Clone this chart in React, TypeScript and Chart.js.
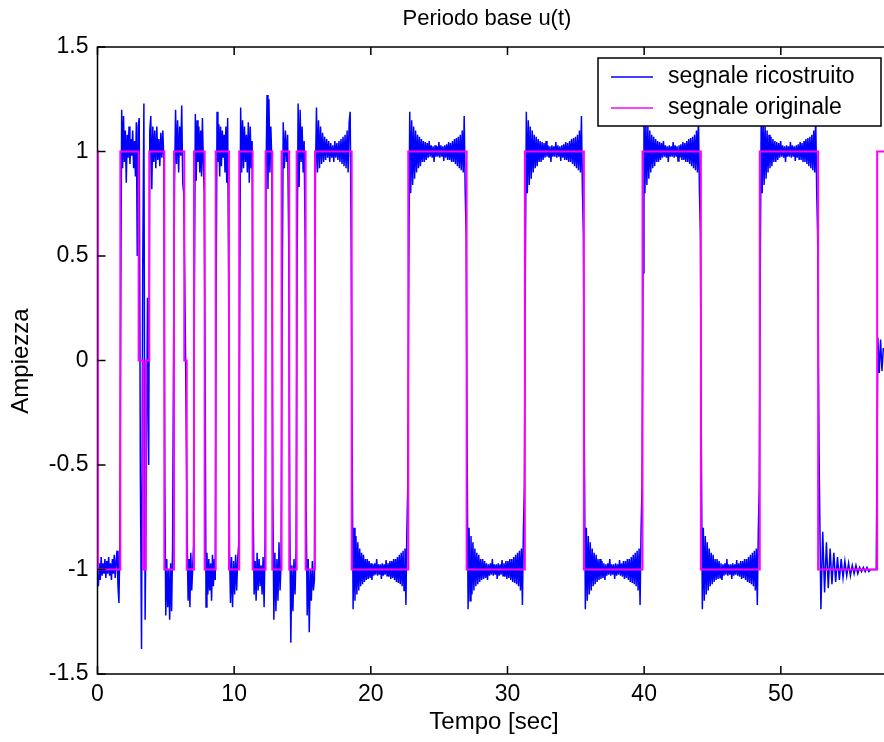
import React, { useEffect, useRef } from 'react';
import { Chart, registerables } from 'chart.js';

Chart.register(...registerables);

// ---------- text ----------
const chartTitle = 'Periodo base u(t)';
const xAxisLabel = 'Tempo [sec]';
const yAxisLabel = 'Ampiezza';
const seriesLabels = ['segnale ricostruito', 'segnale originale'];
const seriesColors = ['#0000FF', '#FF00FF'];

// ---------- axes ----------
const xTicks = [0, 10, 20, 30, 40, 50];
const xTickLabels = ['0', '10', '20', '30', '40', '50'];
const yTicks = [-1.5, -1, -0.5, 0, 0.5, 1, 1.5];
const yTickLabels = ['-1.5', '-1', '-0.5', '0', '0.5', '1', '1.5'];
const xMin = 0;
const xMax = 57.55;
const yMin = -1.5;
const yMax = 1.5;

// ---------- original signal (magenta): switch times and level held after each ----------
const switchTimes = [
  0, 0.03, 1.67, 3.01, 3.35, 3.53, 3.79, 4.89, 5.6, 6.35, 6.53, 7.06, 7.84, 8.65,
  9.62, 10.37, 11.35, 12.3, 12.79, 13.47, 14.03, 14.57, 15.23, 15.91, 18.6, 22.74,
  27.01, 31.27, 35.59, 39.88, 44.15, 48.46, 52.73, 57.05,
];
const switchLevels = [
  1, -1, 1, 0, -1, 0, 1, -1, 1, 0, -1, 1, -1, 1, -1, 1, -1, 1, -1, 1, -1, 1, -1, 1,
  -1, 1, -1, 1, -1, 1, -1, 1, -1, 1,
];

// ---------- reconstructed signal (blue): samples read inside each segment ----------
const blueShortSegments: number[][] = [
  [],
  [-1.08, -0.97, -1.05, -0.94, -1.03, -0.97, -1.02, -0.95, -1.04, -0.96, -1.02, -0.94, -1.03, -0.97, -1.05, -0.95, -1.02, -0.93, -1.04, -0.96, -0.91, -1.08, -1.16, -0.88],
  [0.33, 1.2, 0.92, 1.17, 0.95, 1.1, 0.85, 1.08, 0.97, 1.12, 0.94, 1.06, 0.98, 1.1, 0.92, 1.05, 0.88, 1.14, 0.5, 1.12],
  [1.16, -0.55, -1.38, 0.43],
  [1.23, -1.24],
  [-0.55, 0.3, -0.5],
  [1.1, 1.17, 0.82, 1.12, 0.95, 1.1, 0.92, 1.12, 0.96, 1.06, 0.93, 1.09, 0.97, 1.1, 0.96],
  [-0.6, -1.22, -0.95, -1.18, -1.0, -1.24, -0.97, -1.2, -0.9, 0.03],
  [0.85, 1.2, 0.94, 1.15, 0.9, 1.12, 0.98, 1.22, 0.85, 0.8],
  [0.05],
  [-0.85, -1.15, -0.95, -1.18, -0.92, -1.1, -1.0, -0.88],
  [0.33, 1.18, 0.86, 1.15, 0.95, 1.12, 0.9, 1.1, 0.88, 1.16, 0.95, 0.8],
  [-0.04, -1.18, -0.92, -1.12, -0.95, -1.1, -0.97, -1.15, -0.93, -1.08, -0.95, -1.05],
  [0.32, 1.19, 0.95, 1.13, 0.88, 1.12, 0.93, 1.1, 0.97, 1.08, 0.9, 1.12, 0.85, 1.16, 0.45],
  [-0.9, -1.16, -0.94, -1.18, -0.96, -1.12, -0.93, -1.1, -0.95, -0.88],
  [0.3, 1.21, 0.9, 1.15, 0.92, 1.12, 0.95, 1.08, 0.9, 1.14, 0.85, 1.12, 0.92, 1.05],
  [-0.68, -1.12, -0.96, -1.15, -0.92, -1.1, -0.95, -1.08, -0.98, -1.12, -0.94, -1.18, -0.86],
  [0.9, 1.27, 0.82, 1.25, 0.9, 1.12, 0.95],
  [-0.64, -1.24, -0.92, -1.2, -0.95, -1.15, -0.87, -1.1, -0.97],
  [0.23, 1.14, 0.92, 1.1, 0.95, 1.08, 0.57],
  [-0.76, -1.35, -0.98, -1.2, -0.95, -1.12, -0.9],
  [0.45, 1.23, 0.83, 1.2, 0.95, 1.12, 0.9, 1.05, 0.57],
  [-0.7, -1.22, -0.95, -1.3, -1.0, -1.15, -0.96, -1.1, -1.05],
  [0.88, 1.21, 0.9, 1.15, 0.92, 1.12, 0.94, 1.09, 0.95, 1.07, 0.96, 1.06, 0.97, 1.05, 0.95, 1.04, 0.97, 1.03, 0.95, 1.05, 0.97, 1.04, 0.96, 1.05, 0.95, 1.06, 0.94, 1.07, 0.93, 1.08, 0.92, 1.1, 0.9, 1.14, 1.19, 0.56],
];
// ripple read on the long +1 plateau (22.7 s - 27.0 s); -1 plateaus are its mirror
const longPlateauRipple = [
  0.42, 1.19, 0.8, 1.15, 0.84, 1.12, 0.87, 1.1, 0.9, 1.08,
  0.92, 1.07, 0.93, 1.06, 0.95, 1.05, 0.95, 1.045, 0.96, 1.04,
  0.97, 1.05, 0.975, 1.03, 0.97, 1.025, 0.95, 1.03, 0.975, 1.025,
  0.975, 1.045, 0.97, 1.03, 0.975, 1.025, 0.955, 1.03, 0.97, 1.035,
  0.96, 1.045, 0.96, 1.04, 0.95, 1.05, 0.95, 1.06, 0.94, 1.065,
  0.93, 1.07, 0.92, 1.08, 0.91, 1.1, 0.9, 1.17, 0.82, 0.6,
];
const lastPlateauValues = [
  -0.45, -1.19, -0.82, -1.11, -0.87, -1.09, -0.9, -1.07, -0.92, -1.06, -0.94, -1.05,
  -0.95, -1.04, -0.96, -1.03, -0.97, -1.03, -0.98, -1.02, -0.98, -1.02, -0.99, -1.01,
  -0.99, -1.01, -0.99, -1.01, -1.0, -1.0, -1.0, -1.0,
];
const endValues = [0.11, -0.06, 0.1, -0.05, 0.06];

const FONT = '"Liberation Sans", Arial, Helvetica, sans-serif';

function buildOriginal() {
  const pts = switchTimes.map((t, i) => ({ x: t, y: switchLevels[i] }));
  pts.push({ x: xMax, y: switchLevels[switchLevels.length - 1] });
  return pts;
}

function buildReconstructed() {
  const pts: { x: number; y: number }[] = [];
  for (let i = 0; i < switchTimes.length; i++) {
    const start = switchTimes[i];
    const end = i + 1 < switchTimes.length ? switchTimes[i + 1] : xMax;
    let vals: number[];
    if (i < blueShortSegments.length) vals = blueShortSegments[i];
    else if (i === switchTimes.length - 1) vals = endValues;
    else if (i === switchTimes.length - 2) vals = lastPlateauValues;
    else vals = longPlateauRipple.map((v) => v * switchLevels[i]);
    const n = vals.length;
    vals.forEach((v, k) => pts.push({ x: start + ((k + 0.5) * (end - start)) / n, y: v }));
  }
  return pts;
}

const frameAndText = {
  id: 'frameAndText',
  beforeDatasetsDraw(chart: any) {
    const { ctx, chartArea: a } = chart;
    ctx.save();
    ctx.strokeStyle = '#000';
    ctx.lineWidth = 1.5;
    ctx.beginPath();
    ctx.moveTo(chart.width, a.top);
    ctx.lineTo(a.left, a.top);
    ctx.lineTo(a.left, a.bottom);
    ctx.lineTo(chart.width, a.bottom);
    ctx.stroke();
    ctx.restore();
  },
  afterDatasetsDraw(chart: any) {
    const { ctx, chartArea: a, scales } = chart;
    const xs = scales.x;
    const ys = scales.y;
    const tl = 8;
    ctx.save();
    ctx.strokeStyle = '#000';
    ctx.lineWidth = 1.5;
    ctx.beginPath();
    xTicks.forEach((v) => {
      const px = xs.getPixelForValue(v);
      ctx.moveTo(px, a.bottom);
      ctx.lineTo(px, a.bottom - tl);
      ctx.moveTo(px, a.top);
      ctx.lineTo(px, a.top + tl);
    });
    yTicks.forEach((v) => {
      const py = ys.getPixelForValue(v);
      ctx.moveTo(a.left, py);
      ctx.lineTo(a.left + tl, py);
    });
    ctx.stroke();

    ctx.fillStyle = '#000';
    ctx.font = `23px ${FONT}`;
    ctx.textAlign = 'center';
    ctx.textBaseline = 'middle';
    xTicks.forEach((v, i) => ctx.fillText(xTickLabels[i], xs.getPixelForValue(v), a.bottom + 21));
    ctx.textAlign = 'right';
    yTicks.forEach((v, i) => ctx.fillText(yTickLabels[i], a.left - 9, ys.getPixelForValue(v)));

    // title and axis labels
    ctx.textAlign = 'center';
    ctx.font = `22px ${FONT}`;
    ctx.fillText(chartTitle, 487, 19);
    ctx.font = `24px ${FONT}`;
    ctx.fillText(xAxisLabel, 494, 722);
    ctx.save();
    ctx.translate(21, 361);
    ctx.rotate(-Math.PI / 2);
    ctx.fillText(yAxisLabel, 0, 0);
    ctx.restore();

    // legend box
    const bx = 598, by = 58, bw = 283, bh = 68;
    ctx.fillStyle = '#fff';
    ctx.fillRect(bx, by, bw, bh);
    ctx.strokeStyle = '#000';
    ctx.lineWidth = 1.5;
    ctx.strokeRect(bx, by, bw, bh);
    const rows = [77, 108];
    chart.data.datasets.forEach((ds: any, i: number) => {
      ctx.strokeStyle = ds.borderColor;
      ctx.lineWidth = 1.5;
      ctx.beginPath();
      ctx.moveTo(611, rows[i]);
      ctx.lineTo(653, rows[i]);
      ctx.stroke();
      ctx.fillStyle = '#000';
      ctx.textAlign = 'left';
      ctx.font = `23px ${FONT}`;
      ctx.fillText(ds.label, 668, rows[i]);
    });
    ctx.restore();
  },
};

export default function App() {
  const canvasRef = useRef<HTMLCanvasElement | null>(null);

  useEffect(() => {
    const canvas = canvasRef.current;
    if (!canvas) return;
    const chart = new Chart(canvas, {
      type: 'line',
      data: {
        datasets: [
          {
            label: seriesLabels[0],
            data: buildReconstructed(),
            borderColor: seriesColors[0],
            backgroundColor: seriesColors[0],
            borderWidth: 1.5,
            pointRadius: 0,
            tension: 0,
            order: 2,
          },
          {
            label: seriesLabels[1],
            data: buildOriginal(),
            borderColor: seriesColors[1],
            backgroundColor: seriesColors[1],
            borderWidth: 2,
            pointRadius: 0,
            stepped: true,
            order: 1,
          },
        ],
      },
      options: {
        animation: false,
        responsive: false,
        devicePixelRatio: 1,
        parsing: false,
        normalized: true,
        layout: { padding: { top: 47, right: 0, bottom: 0, left: 0 } },
        plugins: {
          legend: { display: false },
          title: { display: false },
          tooltip: { enabled: false },
        },
        scales: {
          x: {
            type: 'linear',
            min: xMin,
            max: xMax,
            grid: { display: false, drawTicks: false },
            border: { display: false },
            ticks: { display: false },
            afterFit: (s: any) => {
              s.height = 68;
            },
          },
          y: {
            type: 'linear',
            min: yMin,
            max: yMax,
            grid: { display: false, drawTicks: false },
            border: { display: false },
            ticks: { display: false },
            afterFit: (s: any) => {
              s.width = 97.5;
            },
          },
        },
      },
      plugins: [frameAndText],
    } as any);
    return () => chart.destroy();
  }, []);

  return (
    <div style={{ position: 'absolute', left: 0, top: 0, width: 884, height: 742, background: '#fff' }}>
      <canvas ref={canvasRef} width={884} height={742} style={{ display: 'block' }} />
    </div>
  );
}
